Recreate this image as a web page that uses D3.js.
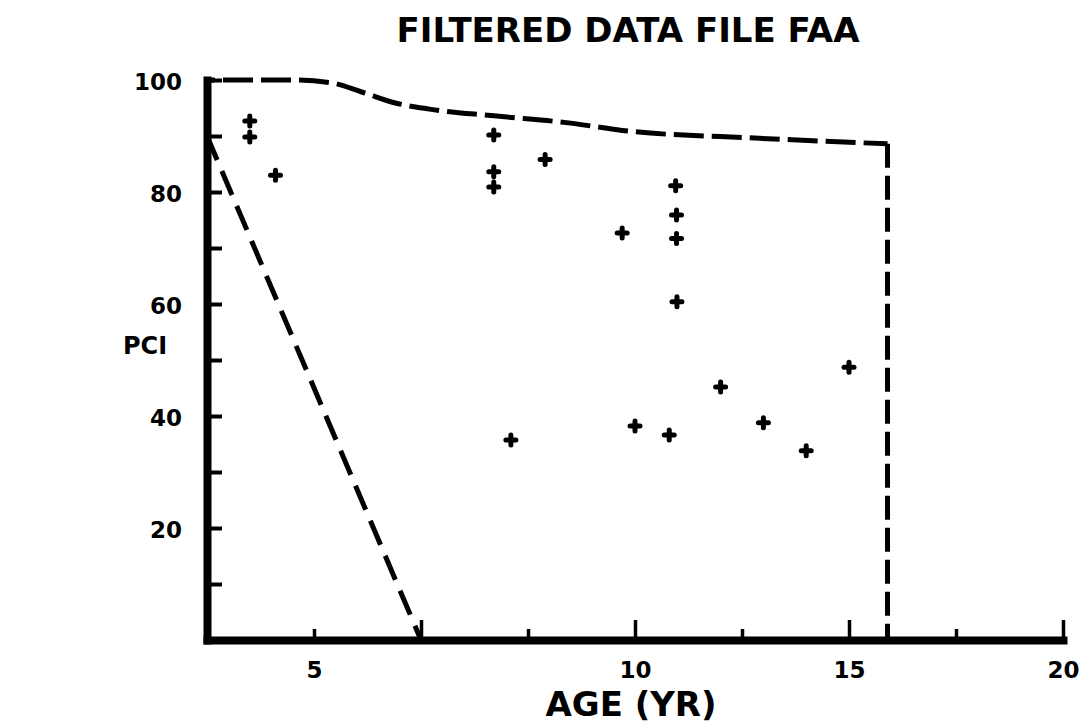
<!DOCTYPE html>
<html>
<head>
<meta charset="utf-8">
<script src="https://cdn.jsdelivr.net/npm/d3@7"></script>
<style>
  html, body { margin: 0; padding: 0; background: #fff; }
  svg { display: block; }
  text { font-family: "DejaVu Sans", sans-serif; font-weight: bold; fill: #000; }
</style>
</head>
<body>
<svg id="chart" width="1081" height="725"></svg>
<script>
// ---- data ----
const title = "FILTERED DATA FILE FAA";
const xLabel = "AGE (YR)";
const yLabel = "PCI";

// observed points (age in years, PCI)
const pointAge = [1.0, 1.0, 1.6, 6.7, 6.7, 6.7, 7.9, 9.7, 10.95, 10.97, 10.97, 10.98, 7.1, 10.0, 10.8, 12.0, 13.0, 14.0, 15.0];
const pointPCI = [92.7, 89.8, 83.0, 90.2, 83.6, 80.9, 85.8, 72.7, 81.1, 75.9, 71.7, 60.4, 35.7, 38.2, 36.6, 45.2, 38.8, 33.8, 48.7];

// upper dashed envelope
const envelopeAge = [0, 2.0, 2.9, 3.6, 4.4, 5.2, 6.7, 8.5, 9.7, 12.9, 15.9];
const envelopePCI = [100, 100, 99.5, 97.9, 95.9, 94.8, 93.6, 92.3, 91.0, 89.6, 88.6];
// right-hand vertical dashed limit
const limitAge = [15.9, 15.9];
const limitPCI = [88.6, 0];
// lower dashed limit (diagonal)
const lowerAge = [0, 5];
const lowerPCI = [90, 0];

// axis ticks
const xTickValues = [2.5, 5, 7.5, 10, 12.5, 15, 17.5, 20];
const xTickLabels = ["5", "", "", "10", "", "15", "", "20"];
const xMajorTicks = [5, 10, 15, 20];
const yTickValues = [10, 20, 30, 40, 50, 60, 70, 80, 90, 100];
const yTickLabels = ["", "20", "", "40", "", "60", "", "80", "", "100"];

// ---- drawing ----
const svg = d3.select("#chart");
svg.append("rect").attr("width", 1081).attr("height", 725).attr("fill", "#fff");

const x = d3.scaleLinear().domain([0, 20]).range([207, 1063]);
const y = d3.scaleLinear().domain([0, 100]).range([640, 80]);

// title
svg.append("text").attr("x", 628).attr("y", 42).attr("text-anchor", "middle")
  .attr("font-size", 34).text(title);

// y axis
const yAxis = d3.axisLeft(y)
  .tickValues(yTickValues)
  .tickFormat((d, i) => yTickLabels[i])
  .tickSizeInner(-15).tickSizeOuter(0).tickPadding(25);
const gy = svg.append("g").attr("transform", `translate(${x(0)},0)`).call(yAxis);
gy.select(".domain").attr("stroke", "#000").attr("stroke-width", 8).attr("stroke-linecap", "square");
gy.selectAll(".tick line").attr("stroke", "#000").attr("stroke-width", 4);
gy.selectAll(".tick text").attr("font-size", 23).attr("font-family", "DejaVu Sans")
  .attr("font-weight", "bold").attr("dy", "0.42em");

// x axis
const xAxis = d3.axisBottom(x)
  .tickValues(xTickValues)
  .tickFormat((d, i) => xTickLabels[i])
  .tickSizeOuter(0).tickSizeInner(-10).tickPadding(17);
const gx = svg.append("g").attr("transform", `translate(0,${y(0)})`).call(xAxis);
gx.select(".domain").attr("stroke", "#000").attr("stroke-width", 8).attr("stroke-linecap", "square");
gx.selectAll(".tick line").attr("stroke", "#000").attr("stroke-width", 3.5)
  .attr("y2", d => xMajorTicks.includes(d) ? -20 : -11);
gx.selectAll(".tick text").attr("font-size", 23).attr("font-family", "DejaVu Sans")
  .attr("font-weight", "bold").attr("dy", "0.9em");

// axis titles
svg.append("text").attr("x", 145).attr("y", 354).attr("text-anchor", "middle")
  .attr("font-size", 24).text(yLabel);
svg.append("text").attr("x", 631).attr("y", 716).attr("text-anchor", "middle")
  .attr("font-size", 34).text(xLabel);

// dashed lines
const dashStyle = sel => sel.attr("fill", "none").attr("stroke", "#000")
  .attr("stroke-width", 5).attr("stroke-linecap", "butt");

const envLine = d3.line().x(d => x(d[0])).y(d => y(d[1])).curve(d3.curveMonotoneX);
svg.append("path").datum(envelopeAge.map((a, i) => [a, envelopePCI[i]]))
  .attr("d", envLine).call(dashStyle).attr("stroke-dasharray", "30,8")
  .attr("stroke-dashoffset", -16);

const straight = d3.line().x(d => x(d[0])).y(d => y(d[1]));
svg.append("path").datum(limitAge.map((a, i) => [a, limitPCI[i]]))
  .attr("d", straight).call(dashStyle).attr("stroke-dasharray", "24,8");
svg.append("path").datum(lowerAge.map((a, i) => [a, lowerPCI[i]]))
  .attr("d", straight).call(dashStyle).attr("stroke-dasharray", "26,12");

// cross markers
const pts = pointAge.map((a, i) => [a, pointPCI[i]]);
const g = svg.append("g").attr("stroke", "#000").attr("stroke-width", 5).attr("stroke-linecap", "round");
const arm = 5;
const crosses = g.selectAll("g.pt").data(pts).join("g").attr("class", "pt")
  .attr("transform", d => `translate(${x(d[0])},${y(d[1])})`);
crosses.append("line").attr("x1", -arm).attr("x2", arm).attr("y1", 0).attr("y2", 0);
crosses.append("line").attr("x1", 0).attr("x2", 0).attr("y1", -arm).attr("y2", arm);
</script>
</body>
</html>
